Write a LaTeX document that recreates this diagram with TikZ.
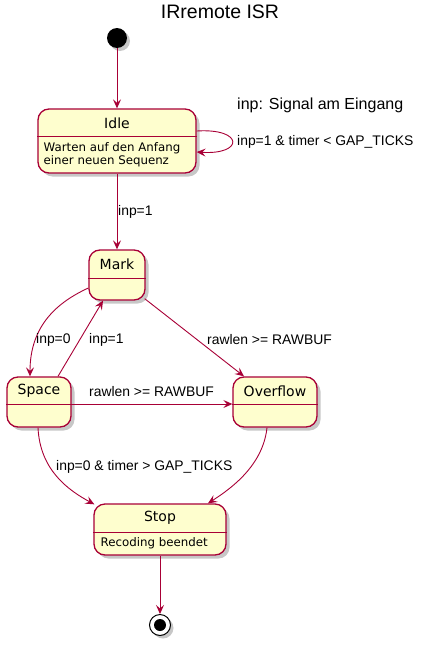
\documentclass[tikz,border=0pt]{standalone}
\usepackage{fontspec}
\setmainfont{Liberation Sans}
\newfontfamily\dvfont{DejaVu Sans}
\usetikzlibrary{shadows,arrows.meta}
\definecolor{umlred}{HTML}{A80036}
\definecolor{umlfill}{HTML}{FEFECE}
\tikzset{
  statebox/.style={draw=umlred, fill=umlfill, line width=1.3pt, rounded corners=11pt,
    inner sep=0pt, drop shadow={shadow xshift=3.5pt, shadow yshift=-3.5pt, opacity=0.4, fill=black!55}},
  hline/.style={draw=umlred, line width=0.9pt},
  sname/.style={font=\dvfont\fontsize{14}{16}\selectfont, inner sep=0pt},
  sbody/.style={font=\dvfont\fontsize{11.8}{13.2}\selectfont, inner sep=0pt, align=left, anchor=west},
  trans/.style={draw=umlred, line width=0.9pt, -{Stealth[length=9pt,width=8pt,inset=3.5pt]}},
  tlabel/.style={font=\fontsize{13.9}{16}\selectfont, inner sep=0pt, anchor=west},
}
\begin{document}
\begin{tikzpicture}[x=1pt,y=-1pt]
\useasboundingbox (0,0) rectangle (424,645);
% title
\node[font=\fontsize{19.5}{22}\selectfont, inner sep=0pt] (title) at (220,12) {IRremote ISR};
% start
\node[circle, fill=black, minimum size=20pt, inner sep=0pt,
  drop shadow={shadow xshift=3pt, shadow yshift=-3pt, opacity=0.4, fill=black!55}] (start) at (117,38) {};
% states
\node[statebox, minimum width=158pt, minimum height=64pt] (idle) at (117,141) {};
\node[statebox, minimum width=56pt, minimum height=50pt] (mark) at (117,275) {};
\node[statebox, minimum width=64pt, minimum height=50pt] (space) at (39,402) {};
\node[statebox, minimum width=84pt, minimum height=50pt] (overflow) at (275,402) {};
\node[statebox, minimum width=132pt, minimum height=51pt] (stop) at (160,529.5) {};
% header lines
\draw[hline] ([yshift=5pt]idle.west) -- ([yshift=5pt]idle.east);
\draw[hline] ([yshift=-3pt]mark.west) -- ([yshift=-3pt]mark.east);
\draw[hline] ([yshift=-2pt]space.west) -- ([yshift=-2pt]space.east);
\draw[hline] ([yshift=-2pt]overflow.west) -- ([yshift=-2pt]overflow.east);
\draw[hline] ([yshift=-2.5pt]stop.west) -- ([yshift=-2.5pt]stop.east);
% state names
\node[sname] (idlename) at (117,123) {Idle};
\node[sname] (markname) at (117,264) {Mark};
\node[sname] (spacename) at (39,391) {Space};
\node[sname] (overflowname) at (275,391) {Overflow};
\node[sname] (stopname) at (160,518) {Stop};
% bodies
\node[sbody] (idlebody) at (43.5,154.5) {Warten auf den Anfang\\einer neuen Sequenz};
\node[sbody] (stopbody) at (100.5,543) {Recoding beendet};
% end
\node[circle, draw=black, fill=white, line width=1pt, minimum size=21pt, inner sep=0pt,
  drop shadow={shadow xshift=3pt, shadow yshift=-3pt, opacity=0.4, fill=black!55}] (end) at (160,625) {};
\node[circle, fill=black, minimum size=12pt, inner sep=0pt] (endin) at (end.center) {};
% legend
\node[font=\fontsize{16}{18}\selectfont, inner sep=0pt, anchor=west] (legend) at (237,105) {inp: Signal am Eingang};
% transitions
\draw[trans] (start.south) -- (idle.north);
\draw[trans] ([yshift=10pt]idle.east) .. controls (244,128) and (244,155) .. ([yshift=-11pt]idle.east);
\node[tlabel] (l1) at (237,142) {inp=1 \& timer < GAP\_TICKS};
\draw[trans] (idle.south) -- (mark.north);
\node[tlabel] (l2) at (118,212) {inp=1};
\draw[trans] ([yshift=-13pt]mark.west) .. controls (58,302) and (30,325) .. ([xshift=-9pt]space.north);
\node[tlabel] (l3) at (36,340) {inp=0};
\draw[trans] ([xshift=19pt]space.north) -- ([xshift=-14pt]mark.south);
\node[tlabel] (l4) at (89,340) {inp=1};
\draw[trans] ([xshift=-1pt,yshift=2pt]mark.south east) -- ([xshift=-31pt]overflow.north);
\node[tlabel] (l5) at (207,340) {rawlen >= RAWBUF};
\draw[trans] ([yshift=-2pt]space.east) -- ([yshift=-2pt]overflow.west);
\node[tlabel] (l6) at (89,392) {rawlen >= RAWBUF};
\draw[trans] ([xshift=-1pt]space.south) .. controls (40,470) and (68,490) .. ([xshift=1pt,yshift=-1pt]stop.north west);
\node[tlabel] (l7) at (56,467) {inp=0 \& timer > GAP\_TICKS};
\draw[trans] ([xshift=-8pt]overflow.south) .. controls (263,465) and (232,488) .. ([xshift=48pt]stop.north);
\draw[trans] (stop.south) -- (end.north);
\end{tikzpicture}
\end{document}
